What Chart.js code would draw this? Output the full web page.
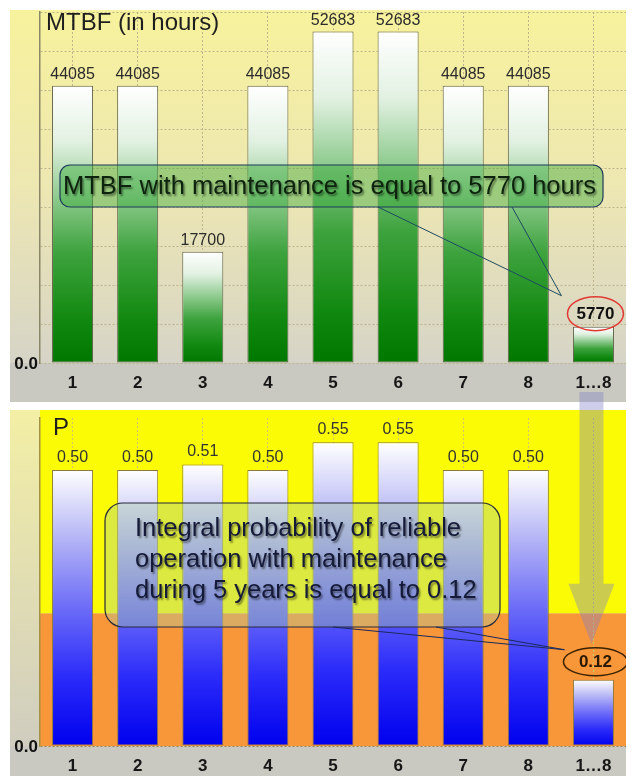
<!DOCTYPE html>
<html>
<head>
<meta charset="utf-8">
<script src="https://cdn.jsdelivr.net/npm/chart.js@4/dist/chart.umd.min.js"></script>
<style>
  html, body { margin: 0; padding: 0; background: #ffffff; width: 634px; height: 776px; overflow: hidden; }
  #topPanel { position: absolute; left: 10px; top: 10px; width: 616px; height: 392px; }
  #bottomPanel { position: absolute; left: 10px; top: 410px; width: 616px; height: 366px; }
  #overlay { position: absolute; left: 0; top: 0; pointer-events: none; }
</style>
</head>
<body>
<div id="topPanel"><canvas id="mtbfChart"></canvas></div>
<div id="bottomPanel"><canvas id="probChart"></canvas></div>
<canvas id="overlay" width="634" height="776"></canvas>
<script>
// ---- data ----
const categories = ['1', '2', '3', '4', '5', '6', '7', '8', '1…8'];
const mtbfHours = [44085, 44085, 17700, 44085, 52683, 52683, 44085, 44085, 5770];
const probability = [0.50, 0.50, 0.51, 0.50, 0.55, 0.55, 0.50, 0.50, 0.12];
const zeroTickLabel = '0.0';
const probabilityZoneSplit = 0.24;   // orange zone below, yellow zone above

const FONT = 'Arial, "Liberation Sans", sans-serif';
const totalIndex = categories.length - 1;

function roundRect(ctx, x, y, w, h, r) {
  ctx.beginPath();
  ctx.moveTo(x + r, y);
  ctx.arcTo(x + w, y, x + w, y + h, r);
  ctx.arcTo(x + w, y + h, x, y + h, r);
  ctx.arcTo(x, y + h, x, y, r);
  ctx.arcTo(x, y, x + w, y, r);
  ctx.closePath();
}

// vertical gradient spanning each bar from its top down to the baseline
function barGradient(stops) {
  return (c) => {
    const chart = c.chart;
    if (!chart.chartArea || c.type !== 'data') return stops[stops.length - 1][1];
    const ys = chart.scales.y;
    const top = ys.getPixelForValue(c.parsed.y);
    const base = ys.getPixelForValue(0);
    const g = chart.ctx.createLinearGradient(0, top, 0, base);
    stops.forEach(([p, col]) => g.addColorStop(p, col));
    return g;
  };
}

// background, value labels, title and callout for one panel
function panelPlugin(cfg) {
  return {
    id: 'panel',
    beforeDraw(chart) {
      const { ctx, width, height, chartArea: a } = chart;
      ctx.save();
      const g = ctx.createLinearGradient(0, 0, 0, a.bottom);
      cfg.outer.forEach(([p, col]) => g.addColorStop(p, col));
      ctx.fillStyle = g;
      ctx.fillRect(0, 0, width, a.bottom);
      if (cfg.zones) {
        const yz = chart.scales.y.getPixelForValue(cfg.zones.split);
        ctx.fillStyle = cfg.zones.high;
        ctx.fillRect(a.left, 0, a.right - a.left, yz);
        ctx.fillStyle = cfg.zones.low;
        ctx.fillRect(a.left, yz, a.right - a.left, a.bottom - yz);
      }
      ctx.fillStyle = cfg.band;
      ctx.fillRect(0, a.bottom, width, height - a.bottom);
      ctx.restore();
    },
    afterDatasetsDraw(chart) {
      const { ctx } = chart;
      const values = chart.data.datasets[0].data;
      const bars = chart.getDatasetMeta(0).data;
      ctx.save();
      ctx.textAlign = 'center';
      bars.forEach((bar, i) => {
        const text = values[i].toFixed(cfg.decimals);
        if (i === totalIndex) {
          const h = cfg.highlight;
          const cy = bar.y - h.lift;
          ctx.font = h.font;
          ctx.fillStyle = h.color;
          ctx.textBaseline = 'middle';
          ctx.fillText(text, bar.x + 2, cy + 1);
          ctx.beginPath();
          ctx.ellipse(bar.x + 2, cy, h.rx, h.ry, 0, 0, Math.PI * 2);
          ctx.lineWidth = h.lineWidth;
          ctx.strokeStyle = h.stroke;
          ctx.stroke();
          chart.$highlight = { x: bar.x + 2, y: cy, rx: h.rx, ry: h.ry };
        } else {
          ctx.font = cfg.labelFont;
          ctx.fillStyle = cfg.labelColor;
          ctx.textBaseline = 'alphabetic';
          ctx.fillText(text, bar.x, bar.y - cfg.labelGap);
        }
      });
      ctx.restore();
    },
    afterDraw(chart) {
      const { ctx, chartArea: a } = chart;
      ctx.save();
      // zero label of the value axis
      ctx.font = 'bold 17px ' + FONT;
      ctx.fillStyle = '#111111';
      ctx.textAlign = 'right';
      ctx.textBaseline = 'middle';
      ctx.fillText(zeroTickLabel, a.left - 2, a.bottom + 1);

      // panel title
      ctx.font = cfg.titleFont;
      ctx.fillStyle = '#1e1e1e';
      ctx.textAlign = 'left';
      ctx.fillText(cfg.title, cfg.titleX, cfg.titleY);

      // callout box with pointer to the highlighted total
      const co = cfg.callout;
      const hl = chart.$highlight;
      roundRect(ctx, co.x, co.y, co.w, co.h, co.r);
      ctx.fillStyle = co.fill;
      ctx.fill();
      ctx.lineWidth = 1.2;
      ctx.strokeStyle = co.stroke;
      ctx.stroke();
      if (hl) {
        const tx = hl.x + co.tipDx, ty = hl.y + co.tipDy;
        ctx.beginPath();
        ctx.moveTo(co.baseA, co.y + co.h);
        ctx.lineTo(tx, ty);
        ctx.lineTo(co.baseB, co.y + co.h);
        ctx.lineWidth = 1;
        ctx.strokeStyle = co.pointer;
        ctx.stroke();
      }
      ctx.font = co.font;
      ctx.fillStyle = co.color;
      ctx.shadowColor = 'rgba(0,0,0,0.45)';
      ctx.shadowOffsetX = 1.5;
      ctx.shadowOffsetY = 1.5;
      ctx.shadowBlur = 2;
      co.lines.forEach((line, k) => ctx.fillText(line, co.textX, co.textY + k * co.lineH));
      ctx.restore();
    }
  };
}

function axisOptions(cfg) {
  return {
    x: {
      grid: { display: true, offset: false, drawTicks: false, color: cfg.xGrid, lineWidth: 1 },
      border: { display: false, dash: [2, 2] },
      ticks: { color: '#161616', font: { family: FONT, size: 17, weight: 'bold' }, padding: 10, maxRotation: 0, autoSkip: false },
      afterFit: (s) => { s.height = cfg.xHeight; }
    },
    y: {
      min: 0,
      max: cfg.yMax,
      grid: { drawTicks: false, color: cfg.yGrid, lineWidth: 1 },
      border: { display: true, color: cfg.axisColor, width: 1.5, dash: [2, 2] },
      ticks: { display: false, stepSize: cfg.yStep },
      afterFit: (s) => { s.width = 30; }
    }
  };
}

const commonOptions = {
  responsive: true,
  maintainAspectRatio: false,
  animation: false,
  devicePixelRatio: 1,
  events: [],
  plugins: { legend: { display: false }, tooltip: { enabled: false } }
};

// ---- MTBF panel ----
const mtbfChart = new Chart(document.getElementById('mtbfChart'), {
  type: 'bar',
  data: {
    labels: categories,
    datasets: [{
      data: mtbfHours,
      backgroundColor: barGradient([[0, '#ffffff'], [0.2, '#e2f1e2'], [0.4, '#8fcb8f'], [0.6, '#3ea33e'], [0.85, '#10880f'], [1, '#007800']]),
      borderColor: '#5f6048',
      borderWidth: 1,
      borderSkipped: false,
      barPercentage: 0.63,
      categoryPercentage: 1
    }]
  },
  options: Object.assign({}, commonOptions, {
    layout: { padding: { top: 2, left: 0, right: 0, bottom: 0 } },
    scales: axisOptions({ xGrid: '#bdb48c', yGrid: '#bdb48c', axisColor: '#8a8668', yMax: 55800, yStep: 6200, xHeight: 39 })
  }),
  plugins: [panelPlugin({
    outer: [[0, '#f7f29c'], [0.5, '#ede7b2'], [1, '#d6d4c7']],
    band: '#c9c8c1',
    title: 'MTBF (in hours)', titleFont: '24px ' + FONT, titleX: 36, titleY: 13,
    decimals: 0, labelFont: '16px ' + FONT, labelColor: '#2b2b2b', labelGap: 7,
    highlight: { font: 'bold 17px ' + FONT, color: '#111111', lift: 13, rx: 28, ry: 17, stroke: '#e23a33', lineWidth: 1.5 },
    callout: {
      x: 50, y: 155, w: 543, h: 42, r: 10,
      fill: 'rgba(60,170,60,0.45)', stroke: '#1d3a5a', pointer: '#1d4a60',
      baseA: 368, baseB: 502, tipDx: -34, tipDy: -18,
      font: '25.5px ' + FONT, color: '#0d230d',
      lines: ['MTBF with maintenance is equal to ' + mtbfHours[totalIndex] + ' hours'],
      textX: 53, textY: 177, lineH: 0
    }
  })]
});

// ---- probability panel ----
const probChart = new Chart(document.getElementById('probChart'), {
  type: 'bar',
  data: {
    labels: categories,
    datasets: [{
      data: probability,
      backgroundColor: barGradient([[0, '#ffffff'], [0.25, '#b4b4f6'], [0.5, '#6c6cf8'], [0.75, '#2b2bfa'], [1, '#0000ee']]),
      borderColor: '#8b7a3c',
      borderWidth: 1,
      borderSkipped: false,
      barPercentage: 0.63,
      categoryPercentage: 1
    }]
  },
  options: Object.assign({}, commonOptions, {
    layout: { padding: { top: 8, left: 0, right: 0, bottom: 0 } },
    scales: axisOptions({
      xGrid: '#cfc56a',
      yGrid: (c) => (c.tick && c.tick.value === 0 ? '#9a8050' : 'rgba(0,0,0,0)'),
      axisColor: '#a39244', yMax: 0.594, yStep: 0.1, xHeight: 30
    })
  }),
  plugins: [panelPlugin({
    outer: [[0, '#f3efa5'], [1, '#d0cdc0']],
    zones: { split: probabilityZoneSplit, high: '#fbfb06', low: '#f8963a' },
    band: '#c9c8c1',
    title: 'P', titleFont: '24px ' + FONT, titleX: 43, titleY: 18,
    decimals: 2, labelFont: '16px ' + FONT, labelColor: '#333333', labelGap: 8,
    highlight: { font: 'bold 17px ' + FONT, color: '#2a1800', lift: 18, rx: 32, ry: 14, stroke: '#3b2200', lineWidth: 1.5 },
    callout: {
      x: 95, y: 93, w: 395, h: 124, r: 18,
      fill: 'rgba(170,205,160,0.38)', stroke: '#262a3a', pointer: '#1a2a5a',
      baseA: 323, baseB: 426, tipDx: -31, tipDy: -12,
      font: '25.5px ' + FONT, color: '#141a38',
      lines: [
        'Integral probability of reliable',
        'operation with maintenance',
        'during 5 years is equal to ' + probability[totalIndex].toFixed(2)
      ],
      textX: 125, textY: 119, lineH: 31
    }
  })]
});

// ---- translucent arrow linking the two totals ----
(function drawArrow() {
  const ctx = document.getElementById('overlay').getContext('2d');
  const bar = probChart.getDatasetMeta(0).data[totalIndex];
  const hl = probChart.$highlight;
  const cx = 10 + bar.x - 2;
  const tipY = 410 + hl.y - hl.ry - 4;
  const headTop = tipY - 60;
  const startY = 392;
  ctx.beginPath();
  ctx.moveTo(cx - 12, startY);
  ctx.lineTo(cx + 12, startY);
  ctx.lineTo(cx + 12, headTop);
  ctx.lineTo(cx + 23, headTop);
  ctx.lineTo(cx, tipY);
  ctx.lineTo(cx - 23, headTop);
  ctx.lineTo(cx - 12, headTop);
  ctx.closePath();
  ctx.fillStyle = 'rgba(125,125,200,0.38)';
  ctx.fill();
})();
</script>
</body>
</html>
